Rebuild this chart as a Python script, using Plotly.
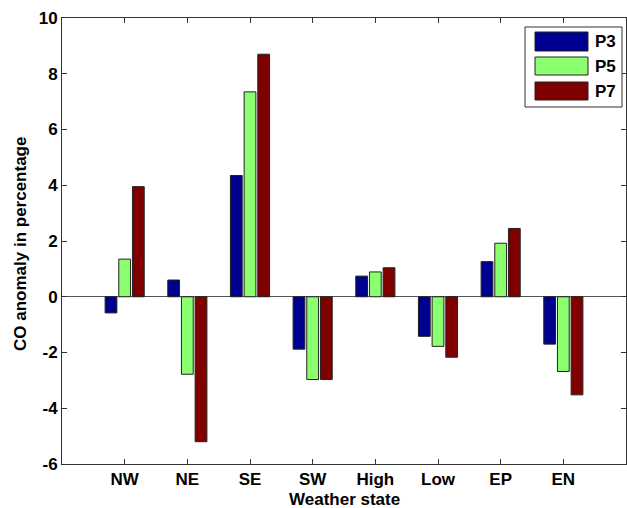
import plotly.graph_objects as go

categories = ["NW", "NE", "SE", "SW", "High", "Low", "EP", "EN"]
p3 = [-0.58, 0.60, 4.35, -1.88, 0.74, -1.42, 1.26, -1.70]
p5 = [1.35, -2.78, 7.35, -2.97, 0.89, -1.78, 1.92, -2.68]
p7 = [3.95, -5.20, 8.70, -2.97, 1.04, -2.17, 2.45, -3.52]
series_names = ["P3", "P5", "P7"]
colors = ["#000090", "#8CFF70", "#800000"]
y_ticks = [-6, -4, -2, 0, 2, 4, 6, 8, 10]
y_tick_labels = ["-6", "-4", "-2", "0", "2", "4", "6", "8", "10"]

W, H = 627, 508
L, R, T, B = 62, 1, 18, 44
pw, ph = W - L - R, H - T - B

def px2paper(x, y):
    return (x - L) / pw, (H - B - y) / ph

fig = go.Figure()
for name, vals, c in zip(series_names, [p3, p5, p7], colors):
    fig.add_trace(go.Bar(
        x=categories, y=vals, name=name, marker_color=c,
        marker_line_color="#222222", marker_line_width=1, showlegend=False,
    ))

font = "Liberation Sans, Arial, sans-serif"
fig.update_layout(
    width=W, height=H,
    margin=dict(l=L, r=R, t=T, b=B),
    paper_bgcolor="white", plot_bgcolor="white",
    barmode="group", bargap=0.345, bargroupgap=0.14,
    font=dict(family=font, size=17, color="black"),
    showlegend=False,
)
fig.update_xaxes(
    type="category", range=[-1, 8], showline=True, linecolor="#333333", linewidth=1,
    mirror="ticks", ticks="inside", ticklen=5, tickcolor="#333333",
    showgrid=False, zeroline=False,
    tickfont=dict(family=font, size=17, color="black", weight="bold"),
)
fig.update_yaxes(
    range=[-6, 10], tickvals=y_ticks, ticktext=y_tick_labels,
    showline=True, linecolor="#333333", linewidth=1,
    mirror="ticks", ticks="inside", ticklen=5, tickcolor="#333333",
    showgrid=False, zeroline=True, zerolinecolor="#555555", zerolinewidth=1,
    tickfont=dict(family=font, size=17, color="black", weight="bold"),
)

annotations = [
    dict(text="<b>Weather state</b>", xref="paper", yref="paper", x=0.5, y=px2paper(0, 499)[1],
         xanchor="center", yanchor="middle", showarrow=False, font=dict(size=17)),
    dict(text="<b>CO anomaly in percentage</b>", xref="paper", yref="paper",
         x=px2paper(20, 0)[0], y=px2paper(0, 244)[1], textangle=-90,
         xanchor="center", yanchor="middle", showarrow=False, font=dict(size=17)),
]
shapes = []
# legend box
x0, y0 = px2paper(525, 107)
x1, y1 = px2paper(622, 27)
shapes.append(dict(type="rect", xref="paper", yref="paper", x0=x0, y0=y0, x1=x1, y1=y1,
                   line=dict(color="#333333", width=1), fillcolor="white", layer="above"))
rows = [(32, 51), (57, 75), (82, 100)]
for (ya, yb), name, c in zip(rows, series_names, colors):
    sx0, sy0 = px2paper(535, yb)
    sx1, sy1 = px2paper(588, ya)
    shapes.append(dict(type="rect", xref="paper", yref="paper", x0=sx0, y0=sy0, x1=sx1, y1=sy1,
                       line=dict(color="#222222", width=1), fillcolor=c, layer="above"))
    lx, ly = px2paper(593, (ya + yb) / 2)
    annotations.append(dict(text="<b>%s</b>" % name, xref="paper", yref="paper", x=lx, y=ly,
                            xanchor="left", yanchor="middle", showarrow=False, font=dict(size=17)))
fig.update_layout(annotations=annotations, shapes=shapes)

fig.write_html("out.html")
